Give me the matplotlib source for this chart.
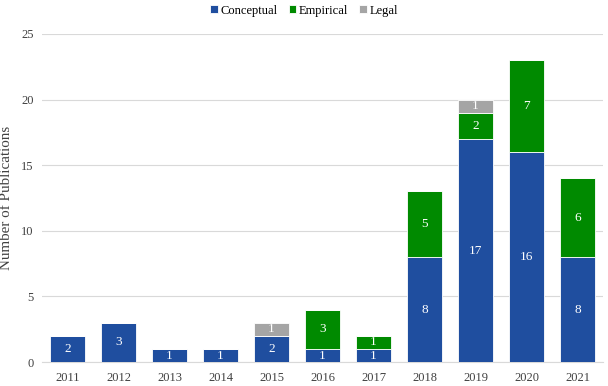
import matplotlib.pyplot as plt
import numpy as np

plt.rcParams['font.family'] = ['Liberation Serif', 'DejaVu Serif']

years = ['2011', '2012', '2013', '2014', '2015', '2016', '2017', '2018', '2019', '2020', '2021']
conceptual = [2, 3, 1, 1, 2, 1, 1, 8, 17, 16, 8]
empirical = [0, 0, 0, 0, 0, 3, 1, 5, 2, 7, 6]
legal = [0, 0, 0, 0, 1, 0, 0, 0, 1, 0, 0]

c_blue = '#1f4e9f'
c_green = '#008a00'
c_gray = '#a5a5a5'

fig = plt.figure(figsize=(6.08, 3.86), dpi=100)
ax = fig.add_axes([0.069, 0.062, 0.923, 0.85])

x = np.arange(len(years))
w = 0.7
conceptual = np.array(conceptual)
empirical = np.array(empirical)
legal = np.array(legal)

ax.bar(x, conceptual, w, color=c_blue, edgecolor='white', linewidth=0.6, label='Conceptual', zorder=3)
ax.bar(x, empirical, w, bottom=conceptual, color=c_green, edgecolor='white', linewidth=0.6, label='Empirical', zorder=3)
ax.bar(x, legal, w, bottom=conceptual + empirical, color=c_gray, edgecolor='white', linewidth=0.6, label='Legal', zorder=3)

# value labels in the middle of each segment
for vals, bottoms in [(conceptual, np.zeros(len(x))), (empirical, conceptual), (legal, conceptual + empirical)]:
    for i, v in enumerate(vals):
        if v > 0:
            ax.text(x[i], bottoms[i] + v / 2, str(v), ha='center', va='center', color='white', fontsize=9.5, zorder=4)

ax.set_xlim(-0.5, len(years) - 0.5)
ax.set_ylim(0, 25)
ax.set_yticks([0, 5, 10, 15, 20, 25])
ax.set_xticks(x)
ax.set_xticklabels(years)
ax.tick_params(axis='both', length=0, labelsize=9, colors='#404040')
ax.tick_params(axis='x', pad=7.5)
ax.tick_params(axis='y', pad=6)
ax.yaxis.grid(True, color='#d9d9d9', linewidth=0.8, zorder=0)
for s in ['top', 'right', 'left']:
    ax.spines[s].set_visible(False)
ax.spines['bottom'].set_color('#d9d9d9')
ax.set_ylabel('Number of Publications', fontsize=10.8, color='#404040', labelpad=6)

h, l = ax.get_legend_handles_labels()
fig.legend(h, l, loc='center', bbox_to_anchor=(0.5, 0.972), ncol=3, frameon=False, fontsize=9,
           handlelength=0.6, handleheight=0.6, handletextpad=0.2, columnspacing=0.9)

fig.savefig('out.png', dpi=100)
